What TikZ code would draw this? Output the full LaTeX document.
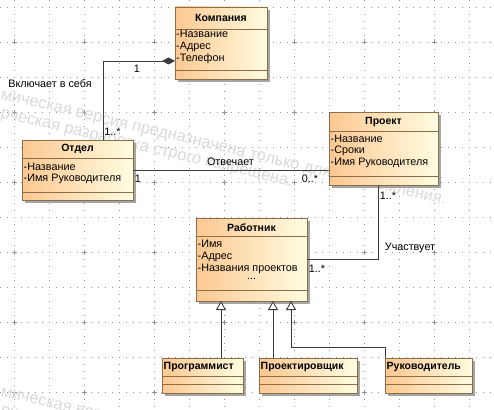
\documentclass[tikz,border=0pt]{standalone}
\usepackage{fontspec}
\setmainfont{Liberation Sans}
\usetikzlibrary{arrows.meta,shadows}
\definecolor{brd}{RGB}{140,110,72}
\definecolor{boxL}{RGB}{252,200,145}
\definecolor{boxR}{RGB}{255,252,225}
\definecolor{shd}{RGB}{165,165,165}
\definecolor{grd}{RGB}{150,150,150}
\definecolor{wmc}{RGB}{218,218,218}
\definecolor{lnc}{RGB}{60,60,60}
\tikzset{
  classbox/.style={draw=brd, line width=0.8pt, left color=boxL, right color=boxR,
    inner sep=0pt, outer sep=0pt, anchor=north west,
    drop shadow={shadow xshift=3pt, shadow yshift=-3pt, fill=shd, opacity=1}},
  sepline/.style={draw=brd, line width=0.8pt},
  attr/.style={font=\fontsize{10.8}{12}\selectfont, inner sep=0pt, anchor=west},
  ttl/.style={font=\fontsize{10.5}{12}\selectfont\bfseries, inner sep=0pt},
  lbl/.style={font=\fontsize{10.8}{12}\selectfont, inner sep=0pt},
  conn/.style={draw=lnc, line width=0.9pt},
  gen/.style={conn, -{Triangle[open, length=9pt, width=10pt, fill=white]}},
  comp/.style={conn, -{Diamond[length=13pt, width=7pt, fill=lnc]}},
  gridl/.style={draw=grd, line width=0.9pt, dash pattern=on 0.9pt off 6.1pt},
  wm/.style={font=\fontsize{16.5}{18}\selectfont, text=wmc, inner sep=0pt, rotate=-13.4}
}
\begin{document}
\begin{tikzpicture}[x=1pt,y=-1pt]
\useasboundingbox (0,0) rectangle (494,409);
\fill[white] (0,0) rectangle (494,409);
% grid
\foreach \gx in {14,49,...,490} {\draw[gridl] (\gx,0) -- (\gx,409);}
\foreach \gy in {7,42,...,409} {\draw[gridl] (0,\gy) -- (494,\gy);}
\foreach \gx in {14,84,...,490} {\foreach \gy in {42,112,...,409} {
  \draw[grd, line width=0.8pt] (\gx-2.5,\gy) -- (\gx+2.5,\gy) (\gx,\gy-2.5) -- (\gx,\gy+2.5);}}
% watermark
\begin{scope}
\clip (0,0) rectangle (494,409);
\coordinate (w1) at (0,99);
\coordinate (w2) at (0,117);
\coordinate (w3) at (0,396);
\coordinate (w4) at (0,414);
\node[wm, anchor=base east] (wm1a) at (w1) {Акаде};
\node[wm, anchor=base west] (wm1b) at (w1) {мическая версия предназначена только для ознакомления.};
\node[wm, anchor=base east] (wm2a) at (w2) {Комме};
\node[wm, anchor=base west] (wm2b) at (w2) {рческая разработка строго запрещена.};
\node[wm, anchor=base east] (wm3a) at (w3) {Акаде};
\node[wm, anchor=base west] (wm3b) at (w3) {мическая версия предназначена только для ознакомления.};
\node[wm, anchor=base east] (wm4a) at (w4) {Комме};
\node[wm, anchor=base west] (wm4b) at (w4) {рческая разработка строго запрещена.};
\end{scope}
% Компания
\node[classbox, minimum width=92, minimum height=72] (komp) at (175,7) {};
\draw[sepline] ([yshift=-22pt]komp.north west) -- ([yshift=-22pt]komp.north east);
\draw[sepline] ([yshift=-63pt]komp.north west) -- ([yshift=-63pt]komp.north east);
\node[ttl] (kompT) at (221,17.5) {Компания};
\node[attr] (kompA1) at (176,34) {-Название};
\node[attr] (kompA2) at (176,46.5) {-Адрес};
\node[attr] (kompA3) at (176,59) {-Телефон};
% Отдел
\node[classbox, minimum width=111, minimum height=60] (otd) at (22,140) {};
\draw[sepline] ([yshift=-18pt]otd.north west) -- ([yshift=-18pt]otd.north east);
\draw[sepline] ([yshift=-52pt]otd.north west) -- ([yshift=-52pt]otd.north east);
\node[ttl] (otdT) at (77.5,149) {Отдел};
\node[attr] (otdA1) at (23.5,167.3) {-Название};
\node[attr] (otdA2) at (23.5,179) {-Имя Руководителя};
% Проект
\node[classbox, minimum width=109, minimum height=73] (proj) at (329,112) {};
\draw[sepline] ([yshift=-19pt]proj.north west) -- ([yshift=-19pt]proj.north east);
\draw[sepline] ([yshift=-64pt]proj.north west) -- ([yshift=-64pt]proj.north east);
\node[ttl] (projT) at (383.5,122) {Проект};
\node[attr] (projA1) at (330.5,139.3) {-Название};
\node[attr] (projA2) at (330.5,151) {-Сроки};
\node[attr] (projA3) at (330.5,162.7) {-Имя Руководителя};
% Работник
\node[classbox, minimum width=111, minimum height=83] (rab) at (196,218) {};
\draw[sepline] ([yshift=-18pt]rab.north west) -- ([yshift=-18pt]rab.north east);
\draw[sepline] ([yshift=-72pt]rab.north west) -- ([yshift=-72pt]rab.north east);
\node[ttl] (rabT) at (251.5,227.5) {Работник};
\node[attr] (rabA1) at (197.5,243.3) {-Имя};
\node[attr] (rabA2) at (197.5,256.5) {-Адрес};
\node[attr] (rabA3) at (197.5,269.3) {-Названия проектов};
\node[lbl] (rabA4) at (251.5,279) {...};
% subclasses
\node[classbox, minimum width=81, minimum height=35] (prog) at (162,358) {};
\draw[sepline] ([yshift=-18pt]prog.north west) -- ([yshift=-18pt]prog.north east);
\draw[sepline] ([yshift=-26pt]prog.north west) -- ([yshift=-26pt]prog.north east);
\node[ttl, anchor=west] (progT) at (163.5,366.5) {Программист};
\node[classbox, minimum width=98, minimum height=35] (proekt) at (259,358) {};
\draw[sepline] ([yshift=-18pt]proekt.north west) -- ([yshift=-18pt]proekt.north east);
\draw[sepline] ([yshift=-26pt]proekt.north west) -- ([yshift=-26pt]proekt.north east);
\node[ttl, anchor=west] (proektT) at (260.5,366.5) {Проектировщик};
\node[classbox, minimum width=87, minimum height=35] (ruk) at (385,358) {};
\draw[sepline] ([yshift=-18pt]ruk.north west) -- ([yshift=-18pt]ruk.north east);
\draw[sepline] ([yshift=-26pt]ruk.north west) -- ([yshift=-26pt]ruk.north east);
\node[ttl, anchor=west] (rukT) at (386.5,366.5) {Руководитель};
% connectors
\coordinate (cK) at (103,61);
\coordinate (cR) at (0,170);
\coordinate (cP) at (378,259);
\coordinate (g1) at (221,0);
\coordinate (g2) at (273,0);
\coordinate (g3) at (291,0);
\draw[comp] (otd.north -| cK) |- (komp.west |- cK);
\draw[conn] (otd.east |- cR) -- (proj.west |- cR);
\draw[conn] (proj.south -| cP) |- (rab.east |- cP);
\draw[gen] (prog.north -| g1) -- (rab.south -| g1);
\draw[gen] (proekt.north -| g2) -- (rab.south -| g2);
\draw[gen] (ruk.north west) -- ++(0,-11) -| (rab.south -| g3);
% labels
\node[lbl] (l1) at (137,68.5) {1};
\node[lbl] (l2) at (50,84) {Включает в себя};
\node[lbl] (l3) at (112.5,131.5) {1..*};
\node[lbl] (l4) at (138,178.5) {1};
\node[lbl] (l5) at (230.5,162) {Отвечает};
\node[lbl] (l6) at (310,178.5) {0..*};
\node[lbl] (l7) at (388,195.5) {1..*};
\node[lbl] (l8) at (410,247.5) {Участвует};
\node[lbl] (l9) at (317,268.5) {1..*};
\end{tikzpicture}
\end{document}
